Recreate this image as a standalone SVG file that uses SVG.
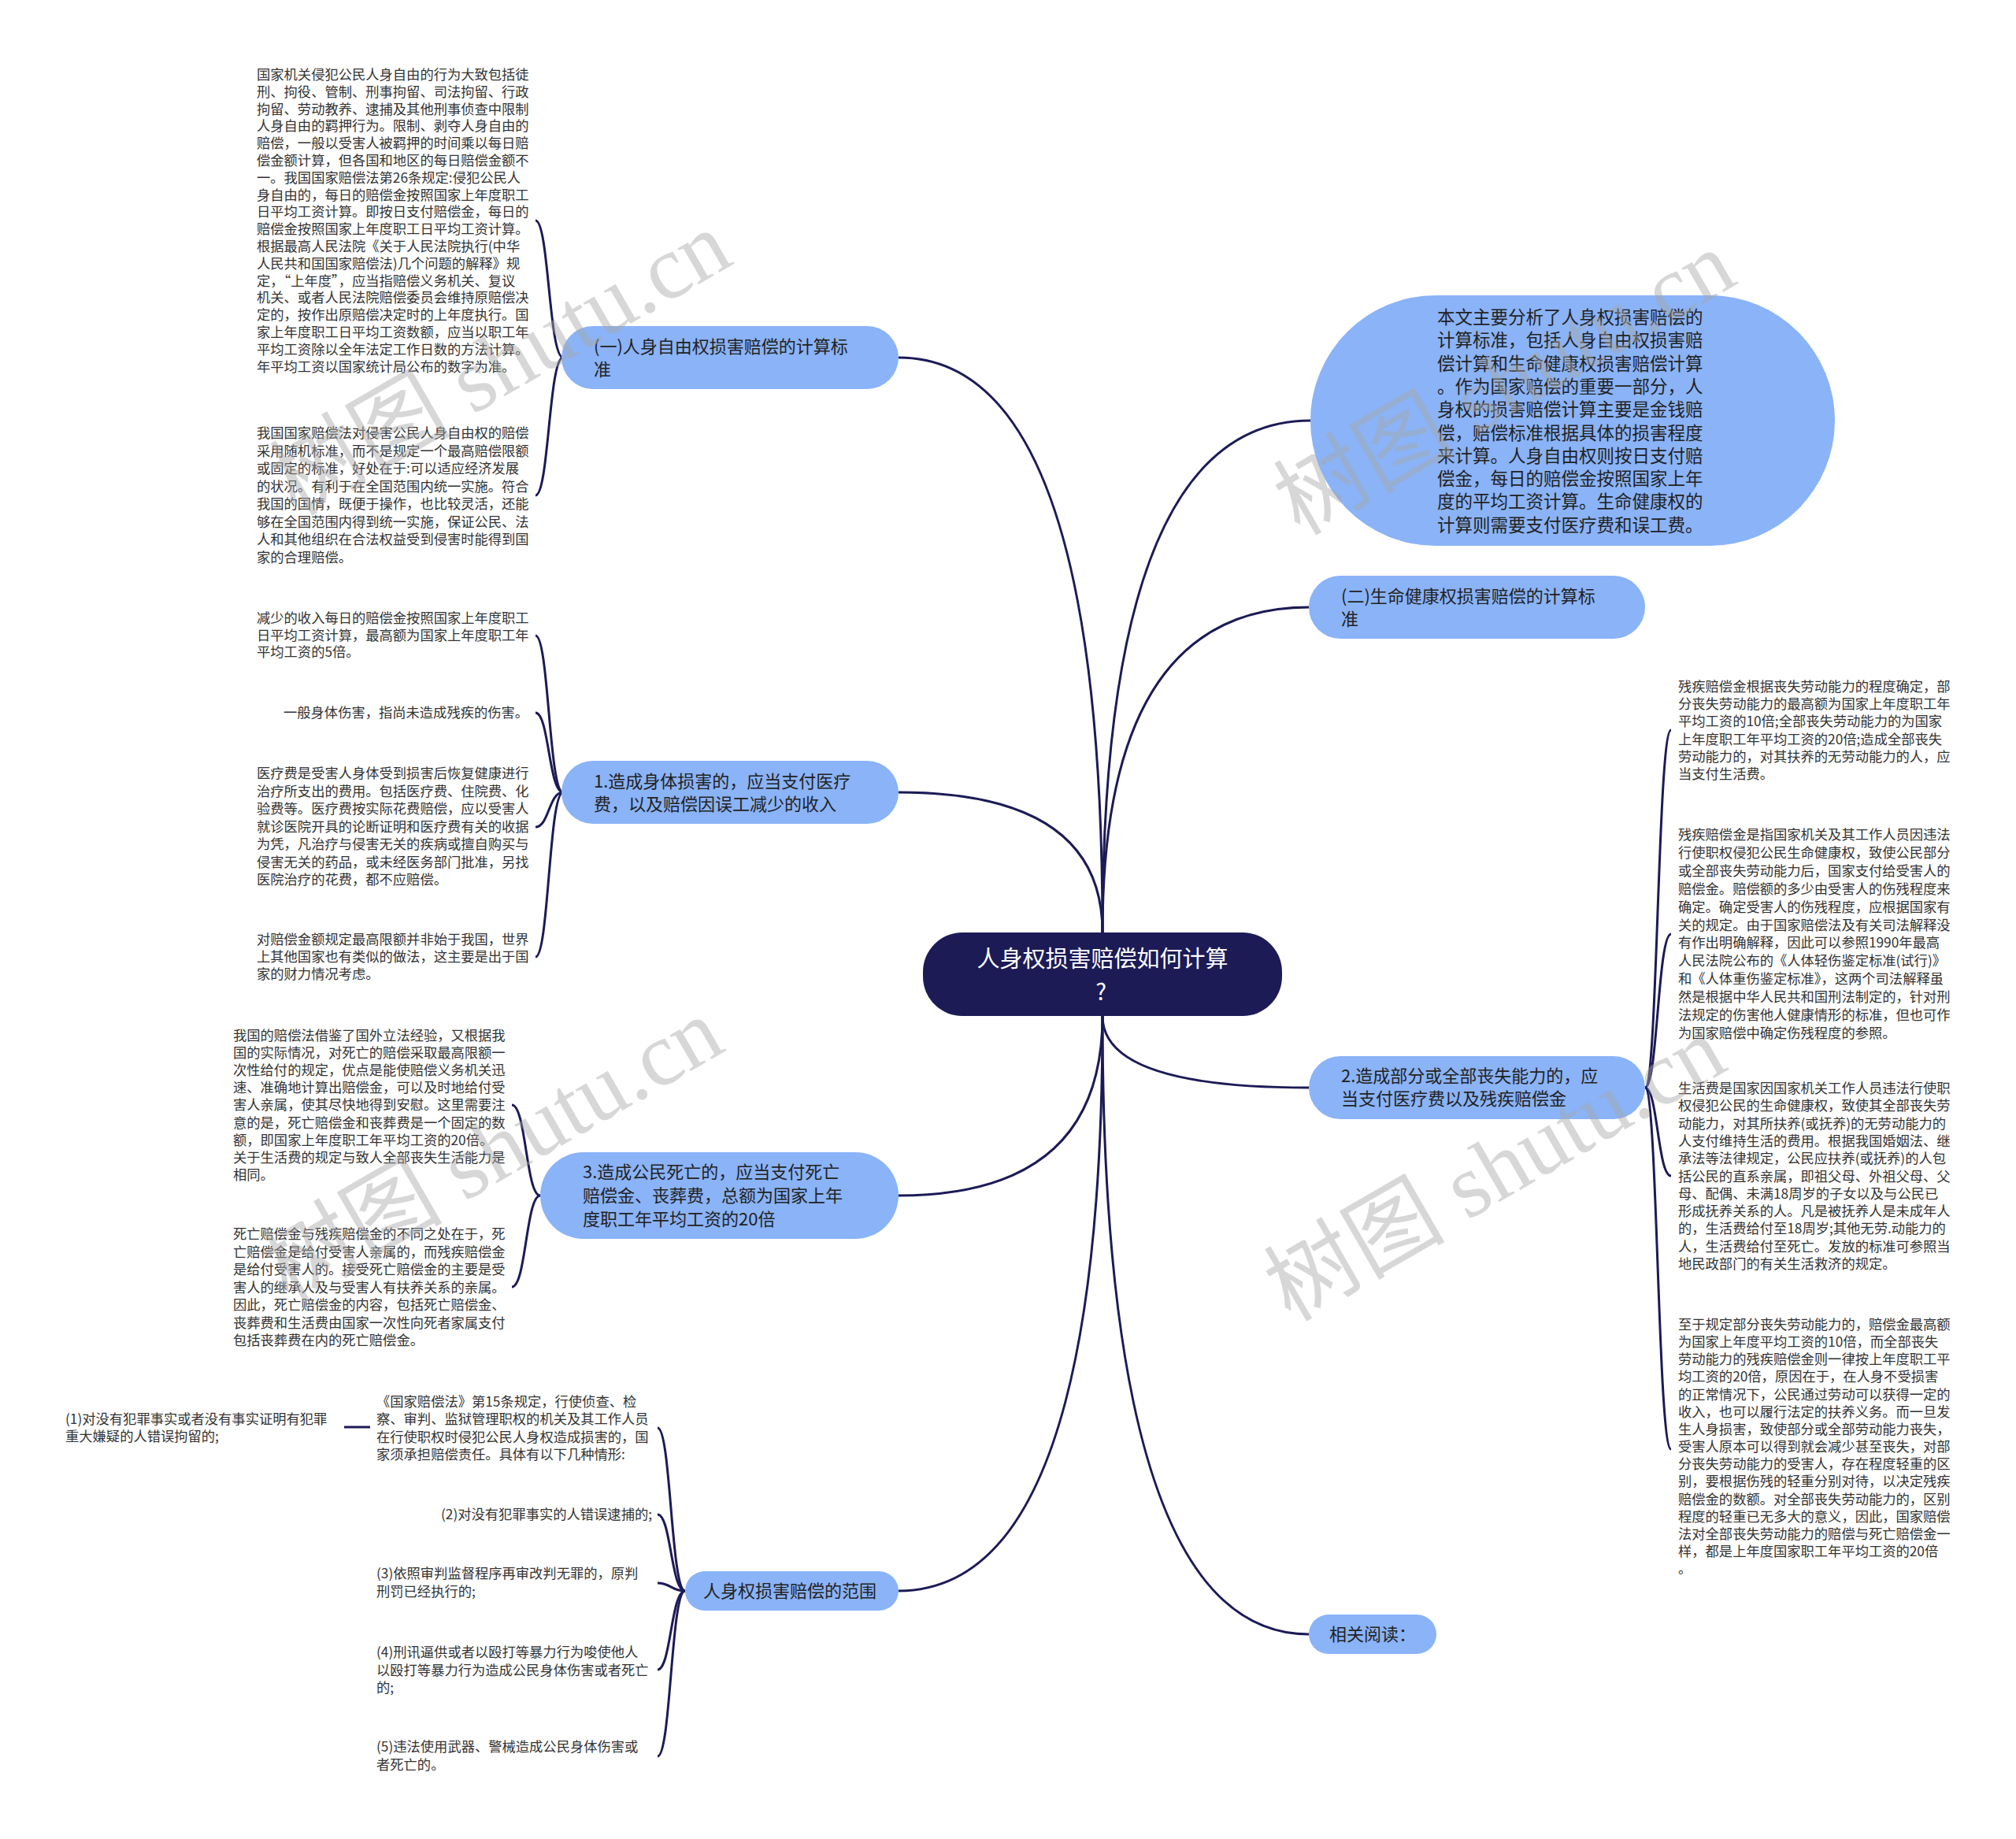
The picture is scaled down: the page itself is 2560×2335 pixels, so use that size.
<svg xmlns="http://www.w3.org/2000/svg" width="2560" height="2335" viewBox="0 0 2560 2335">
<style>
.c{fill:none;stroke:#1c1b56;stroke-width:3}
.n1{fill:#8ab3f8}
.t1{font-family:"Noto Sans CJK SC","Noto Sans",sans-serif;font-size:22px;fill:#222}
.te{font-family:"Noto Sans CJK SC","Noto Sans",sans-serif;font-size:22.5px;fill:#222}
.ts{font-family:"Noto Sans CJK SC","Noto Sans",sans-serif;font-size:17.3px;fill:#333}
.tr{font-family:"Noto Sans CJK SC","Noto Sans",sans-serif;font-size:29px;fill:#ffffff}
.wm{font-family:"Liberation Serif","Noto Sans CJK SC",serif;font-size:115px;fill:#a8a8a8;opacity:0.45}
</style>
<rect width="2560" height="2335" fill="#ffffff"/>
<g id="connectors">
<path class="c" d="M1400 1184 Q1400 454 1141 454"/>
<path class="c" d="M1400 1184 Q1400 1006 1141 1006"/>
<path class="c" d="M1400 1290 Q1400 1518 1141 1518"/>
<path class="c" d="M1400 1290 Q1400 2020 1141 2020"/>
<path class="c" d="M1400 1184 Q1400 534 1664 534"/>
<path class="c" d="M1400 1184 Q1400 771 1662 771"/>
<path class="c" d="M1400 1290 Q1400 1381 1662 1381"/>
<path class="c" d="M1400 1290 Q1400 2075 1662 2075"/>
<path class="c" d="M715 454 C697 454 697 280 680 280"/>
<path class="c" d="M715 454 C697 454 697 629 680 629"/>
<path class="c" d="M715 1006 C697 1006 697 807 680 807"/>
<path class="c" d="M715 1006 C697 1006 697 905 680 905"/>
<path class="c" d="M715 1006 C697 1006 697 1050 680 1050"/>
<path class="c" d="M715 1006 C697 1006 697 1215 680 1215"/>
<path class="c" d="M686 1518 C668 1518 668 1403 650 1403"/>
<path class="c" d="M686 1518 C668 1518 668 1634 650 1634"/>
<path class="c" d="M870 2020 C852 2020 852 1813 835 1813"/>
<path class="c" d="M870 2020 C852 2020 852 1923 835 1923"/>
<path class="c" d="M870 2020 C852 2020 852 2010 835 2010"/>
<path class="c" d="M870 2020 C852 2020 852 2120 835 2120"/>
<path class="c" d="M870 2020 C852 2020 852 2230 835 2230"/>
<path class="c" d="M470 1812 L437 1812"/>
<path class="c" d="M2089 1381 C2105 1381 2105 927 2122 927"/>
<path class="c" d="M2089 1381 C2105 1381 2105 1186 2122 1186"/>
<path class="c" d="M2089 1381 C2105 1381 2105 1493 2122 1493"/>
<path class="c" d="M2089 1381 C2105 1381 2105 1840 2122 1840"/>
</g>
<g id="root">
<rect x="1172" y="1184" width="456" height="106" rx="50" fill="#1c1b56"/>
<text class="tr" text-anchor="middle" x="1400" y="1228">人身权损害赔偿如何计算</text>
<text class="tr" text-anchor="middle" x="1398" y="1270">?</text>
</g>
<g id="nodeA">
<rect class="n1" x="713" y="414" width="428" height="80" rx="40"/>
<text class="t1"><tspan x="754" y="447.7">(一)人身自由权损害赔偿的计算标</tspan><tspan x="754" y="476.7">准</tspan></text>
</g>
<g id="nodeA1">
<text class="ts"><tspan x="326" y="101">国家机关侵犯公民人身自由的行为大致包括徒</tspan><tspan x="326" dy="21.8">刑、拘役、管制、刑事拘留、司法拘留、行政</tspan><tspan x="326" dy="21.8">拘留、劳动教养、逮捕及其他刑事侦查中限制</tspan><tspan x="326" dy="21.8">人身自由的羁押行为。限制、剥夺人身自由的</tspan><tspan x="326" dy="21.8">赔偿，一般以受害人被羁押的时间乘以每日赔</tspan><tspan x="326" dy="21.8">偿金额计算，但各国和地区的每日赔偿金额不</tspan><tspan x="326" dy="21.8">一。我国国家赔偿法第26条规定:侵犯公民人</tspan><tspan x="326" dy="21.8">身自由的，每日的赔偿金按照国家上年度职工</tspan><tspan x="326" dy="21.8">日平均工资计算。即按日支付赔偿金，每日的</tspan><tspan x="326" dy="21.8">赔偿金按照国家上年度职工日平均工资计算。</tspan><tspan x="326" dy="21.8">根据最高人民法院《关于人民法院执行(中华</tspan><tspan x="326" dy="21.8">人民共和国国家赔偿法)几个问题的解释》规</tspan><tspan x="326" dy="21.8">定，“上年度”，应当指赔偿义务机关、复议</tspan><tspan x="326" dy="21.8">机关、或者人民法院赔偿委员会维持原赔偿决</tspan><tspan x="326" dy="21.8">定的，按作出原赔偿决定时的上年度执行。国</tspan><tspan x="326" dy="21.8">家上年度职工日平均工资数额，应当以职工年</tspan><tspan x="326" dy="21.8">平均工资除以全年法定工作日数的方法计算。</tspan><tspan x="326" dy="21.8">年平均工资以国家统计局公布的数字为准。</tspan></text>
</g>
<g id="nodeA2">
<text class="ts"><tspan x="326" y="556">我国国家赔偿法对侵害公民人身自由权的赔偿</tspan><tspan x="326" dy="22.5">采用随机标准，而不是规定一个最高赔偿限额</tspan><tspan x="326" dy="22.5">或固定的标准，好处在于:可以适应经济发展</tspan><tspan x="326" dy="22.5">的状况。有利于在全国范围内统一实施。符合</tspan><tspan x="326" dy="22.5">我国的国情，既便于操作，也比较灵活，还能</tspan><tspan x="326" dy="22.5">够在全国范围内得到统一实施，保证公民、法</tspan><tspan x="326" dy="22.5">人和其他组织在合法权益受到侵害时能得到国</tspan><tspan x="326" dy="22.5">家的合理赔偿。</tspan></text>
</g>
<g id="nodeB">
<rect class="n1" x="713" y="966" width="428" height="80" rx="40"/>
<text class="t1"><tspan x="754" y="999.7">1.造成身体损害的，应当支付医疗</tspan><tspan x="754" y="1028.7">费，以及赔偿因误工减少的收入</tspan></text>
</g>
<g id="nodeB1">
<text class="ts"><tspan x="326" y="791">减少的收入每日的赔偿金按照国家上年度职工</tspan><tspan x="326" dy="21.5">日平均工资计算，最高额为国家上年度职工年</tspan><tspan x="326" dy="21.5">平均工资的5倍。</tspan></text>
</g>
<g id="nodeB2">
<text class="ts" x="360" y="911">一般身体伤害，指尚未造成残疾的伤害。</text>
</g>
<g id="nodeB3">
<text class="ts"><tspan x="326" y="988">医疗费是受害人身体受到损害后恢复健康进行</tspan><tspan x="326" dy="22.5">治疗所支出的费用。包括医疗费、住院费、化</tspan><tspan x="326" dy="22.5">验费等。医疗费按实际花费赔偿，应以受害人</tspan><tspan x="326" dy="22.5">就诊医院开具的论断证明和医疗费有关的收据</tspan><tspan x="326" dy="22.5">为凭，凡治疗与侵害无关的疾病或擅自购买与</tspan><tspan x="326" dy="22.5">侵害无关的药品，或未经医务部门批准，另找</tspan><tspan x="326" dy="22.5">医院治疗的花费，都不应赔偿。</tspan></text>
</g>
<g id="nodeB4">
<text class="ts"><tspan x="326" y="1199">对赔偿金额规定最高限额并非始于我国，世界</tspan><tspan x="326" dy="22">上其他国家也有类似的做法，这主要是出于国</tspan><tspan x="326" dy="22">家的财力情况考虑。</tspan></text>
</g>
<g id="nodeC">
<rect class="n1" x="686" y="1463" width="455" height="110" rx="55"/>
<text class="t1"><tspan x="740" y="1495.7">3.造成公民死亡的，应当支付死亡</tspan><tspan x="740" y="1525.7">赔偿金、丧葬费，总额为国家上年</tspan><tspan x="740" y="1555.7">度职工年平均工资的20倍</tspan></text>
</g>
<g id="nodeC1">
<text class="ts"><tspan x="296" y="1321">我国的赔偿法借鉴了国外立法经验，又根据我</tspan><tspan x="296" dy="22.1">国的实际情况，对死亡的赔偿采取最高限额一</tspan><tspan x="296" dy="22.1">次性给付的规定，优点是能使赔偿义务机关迅</tspan><tspan x="296" dy="22.1">速、准确地计算出赔偿金，可以及时地给付受</tspan><tspan x="296" dy="22.1">害人亲属，使其尽快地得到安慰。这里需要注</tspan><tspan x="296" dy="22.1">意的是，死亡赔偿金和丧葬费是一个固定的数</tspan><tspan x="296" dy="22.1">额，即国家上年度职工年平均工资的20倍。</tspan><tspan x="296" dy="22.1">关于生活费的规定与致人全部丧失生活能力是</tspan><tspan x="296" dy="22.1">相同。</tspan></text>
</g>
<g id="nodeC2">
<text class="ts"><tspan x="296" y="1573">死亡赔偿金与残疾赔偿金的不同之处在于，死</tspan><tspan x="296" dy="22.5">亡赔偿金是给付受害人亲属的，而残疾赔偿金</tspan><tspan x="296" dy="22.5">是给付受害人的。接受死亡赔偿金的主要是受</tspan><tspan x="296" dy="22.5">害人的继承人及与受害人有扶养关系的亲属。</tspan><tspan x="296" dy="22.5">因此，死亡赔偿金的内容，包括死亡赔偿金、</tspan><tspan x="296" dy="22.5">丧葬费和生活费由国家一次性向死者家属支付</tspan><tspan x="296" dy="22.5">包括丧葬费在内的死亡赔偿金。</tspan></text>
</g>
<g id="nodeD">
<rect class="n1" x="870" y="1995" width="271" height="50" rx="25"/>
<text class="t1" x="893" y="2027.7">人身权损害赔偿的范围</text>
</g>
<g id="nodeD1">
<text class="ts"><tspan x="478" y="1786">《国家赔偿法》第15条规定，行使侦查、检</tspan><tspan x="478" dy="22.3">察、审判、监狱管理职权的机关及其工作人员</tspan><tspan x="478" dy="22.3">在行使职权时侵犯公民人身权造成损害的，国</tspan><tspan x="478" dy="22.3">家须承担赔偿责任。具体有以下几种情形:</tspan></text>
</g>
<g id="nodeD1a">
<text class="ts"><tspan x="83" y="1808">(1)对没有犯罪事实或者没有事实证明有犯罪</tspan><tspan x="83" dy="21.5">重大嫌疑的人错误拘留的;</tspan></text>
</g>
<g id="nodeD2">
<text class="ts" x="560" y="1929">(2)对没有犯罪事实的人错误逮捕的;</text>
</g>
<g id="nodeD3">
<text class="ts"><tspan x="478" y="2004">(3)依照审判监督程序再审改判无罪的，原判</tspan><tspan x="478" dy="23">刑罚已经执行的;</tspan></text>
</g>
<g id="nodeD4">
<text class="ts"><tspan x="478" y="2104">(4)刑讯逼供或者以殴打等暴力行为唆使他人</tspan><tspan x="478" dy="22.5">以殴打等暴力行为造成公民身体伤害或者死亡</tspan><tspan x="478" dy="22.5">的;</tspan></text>
</g>
<g id="nodeD5">
<text class="ts"><tspan x="478" y="2224">(5)违法使用武器、警械造成公民身体伤害或</tspan><tspan x="478" dy="23">者死亡的。</tspan></text>
</g>
<g id="nodeE">
<rect class="n1" x="1664" y="375" width="666" height="318" rx="159"/>
<text class="te"><tspan x="1825" y="411">本文主要分析了人身权损害赔偿的</tspan><tspan x="1825" dy="29.3">计算标准，包括人身自由权损害赔</tspan><tspan x="1825" dy="29.3">偿计算和生命健康权损害赔偿计算</tspan><tspan x="1825" dy="29.3">。作为国家赔偿的重要一部分，人</tspan><tspan x="1825" dy="29.3">身权的损害赔偿计算主要是金钱赔</tspan><tspan x="1825" dy="29.3">偿，赔偿标准根据具体的损害程度</tspan><tspan x="1825" dy="29.3">来计算。人身自由权则按日支付赔</tspan><tspan x="1825" dy="29.3">偿金，每日的赔偿金按照国家上年</tspan><tspan x="1825" dy="29.3">度的平均工资计算。生命健康权的</tspan><tspan x="1825" dy="29.3">计算则需要支付医疗费和误工费。</tspan></text>
</g>
<g id="nodeF">
<rect class="n1" x="1662" y="731" width="427" height="80" rx="40"/>
<text class="t1"><tspan x="1703" y="764.7">(二)生命健康权损害赔偿的计算标</tspan><tspan x="1703" y="793.7">准</tspan></text>
</g>
<g id="nodeG">
<rect class="n1" x="1662" y="1341" width="427" height="80" rx="40"/>
<text class="t1"><tspan x="1703" y="1373.7">2.造成部分或全部丧失能力的，应</tspan><tspan x="1703" y="1402.7">当支付医疗费以及残疾赔偿金</tspan></text>
</g>
<g id="nodeG1">
<text class="ts"><tspan x="2131" y="878">残疾赔偿金根据丧失劳动能力的程度确定，部</tspan><tspan x="2131" dy="22.2">分丧失劳动能力的最高额为国家上年度职工年</tspan><tspan x="2131" dy="22.2">平均工资的10倍;全部丧失劳动能力的为国家</tspan><tspan x="2131" dy="22.2">上年度职工年平均工资的20倍;造成全部丧失</tspan><tspan x="2131" dy="22.2">劳动能力的，对其扶养的无劳动能力的人，应</tspan><tspan x="2131" dy="22.2">当支付生活费。</tspan></text>
</g>
<g id="nodeG2">
<text class="ts"><tspan x="2131" y="1066">残疾赔偿金是指国家机关及其工作人员因违法</tspan><tspan x="2131" dy="22.9">行使职权侵犯公民生命健康权，致使公民部分</tspan><tspan x="2131" dy="22.9">或全部丧失劳动能力后，国家支付给受害人的</tspan><tspan x="2131" dy="22.9">赔偿金。赔偿额的多少由受害人的伤残程度来</tspan><tspan x="2131" dy="22.9">确定。确定受害人的伤残程度，应根据国家有</tspan><tspan x="2131" dy="22.9">关的规定。由于国家赔偿法及有关司法解释没</tspan><tspan x="2131" dy="22.9">有作出明确解释，因此可以参照1990年最高</tspan><tspan x="2131" dy="22.9">人民法院公布的《人体轻伤鉴定标准(试行)》</tspan><tspan x="2131" dy="22.9">和《人体重伤鉴定标准》，这两个司法解释虽</tspan><tspan x="2131" dy="22.9">然是根据中华人民共和国刑法制定的，针对刑</tspan><tspan x="2131" dy="22.9">法规定的伤害他人健康情形的标准，但也可作</tspan><tspan x="2131" dy="22.9">为国家赔偿中确定伤残程度的参照。</tspan></text>
</g>
<g id="nodeG3">
<text class="ts"><tspan x="2131" y="1388">生活费是国家因国家机关工作人员违法行使职</tspan><tspan x="2131" dy="22.3">权侵犯公民的生命健康权，致使其全部丧失劳</tspan><tspan x="2131" dy="22.3">动能力，对其所扶养(或抚养)的无劳动能力的</tspan><tspan x="2131" dy="22.3">人支付维持生活的费用。根据我国婚姻法、继</tspan><tspan x="2131" dy="22.3">承法等法律规定，公民应扶养(或抚养)的人包</tspan><tspan x="2131" dy="22.3">括公民的直系亲属，即祖父母、外祖父母、父</tspan><tspan x="2131" dy="22.3">母、配偶、未满18周岁的子女以及与公民已</tspan><tspan x="2131" dy="22.3">形成抚养关系的人。凡是被抚养人是未成年人</tspan><tspan x="2131" dy="22.3">的，生活费给付至18周岁;其他无劳.动能力的</tspan><tspan x="2131" dy="22.3">人，生活费给付至死亡。发放的标准可参照当</tspan><tspan x="2131" dy="22.3">地民政部门的有关生活救济的规定。</tspan></text>
</g>
<g id="nodeG4">
<text class="ts"><tspan x="2131" y="1688">至于规定部分丧失劳动能力的，赔偿金最高额</tspan><tspan x="2131" dy="22.15">为国家上年度平均工资的10倍，而全部丧失</tspan><tspan x="2131" dy="22.15">劳动能力的残疾赔偿金则一律按上年度职工平</tspan><tspan x="2131" dy="22.15">均工资的20倍，原因在于，在人身不受损害</tspan><tspan x="2131" dy="22.15">的正常情况下，公民通过劳动可以获得一定的</tspan><tspan x="2131" dy="22.15">收入，也可以履行法定的扶养义务。而一旦发</tspan><tspan x="2131" dy="22.15">生人身损害，致使部分或全部劳动能力丧失，</tspan><tspan x="2131" dy="22.15">受害人原本可以得到就会减少甚至丧失，对部</tspan><tspan x="2131" dy="22.15">分丧失劳动能力的受害人，存在程度轻重的区</tspan><tspan x="2131" dy="22.15">别，要根据伤残的轻重分别对待，以决定残疾</tspan><tspan x="2131" dy="22.15">赔偿金的数额。对全部丧失劳动能力的，区别</tspan><tspan x="2131" dy="22.15">程度的轻重已无多大的意义，因此，国家赔偿</tspan><tspan x="2131" dy="22.15">法对全部丧失劳动能力的赔偿与死亡赔偿金一</tspan><tspan x="2131" dy="22.15">样，都是上年度国家职工年平均工资的20倍</tspan><tspan x="2131" dy="22.15">。</tspan></text>
</g>
<g id="nodeH">
<rect class="n1" x="1662" y="2050" width="162" height="50" rx="25"/>
<text class="t1" x="1688" y="2082.7">相关阅读：</text>
</g>
<g id="watermarks">
<text class="wm" text-anchor="middle" transform="translate(655 495) rotate(-30)">树图 shutu.cn</text>
<text class="wm" text-anchor="middle" transform="translate(1930 520) rotate(-30)">树图 shutu.cn</text>
<text class="wm" text-anchor="middle" transform="translate(645 1494) rotate(-30)">树图 shutu.cn</text>
<text class="wm" text-anchor="middle" transform="translate(1918 1518) rotate(-30)">树图 shutu.cn</text>
</g>
</svg>
